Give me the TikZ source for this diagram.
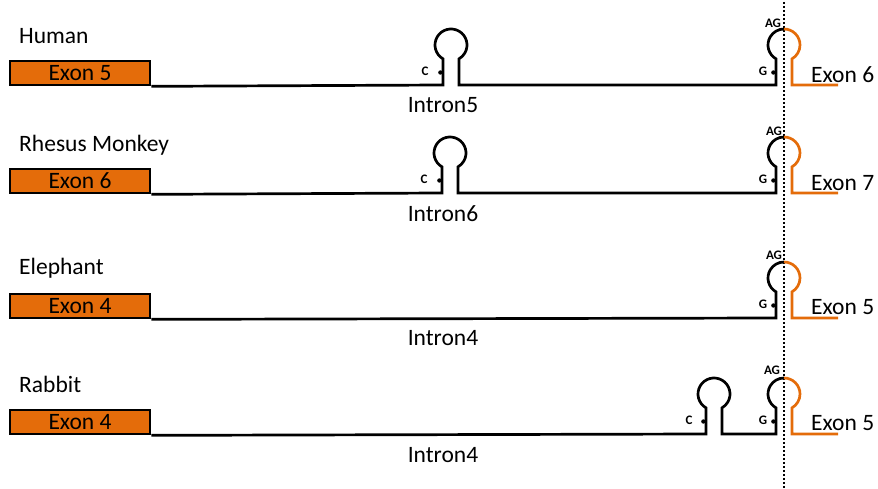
\documentclass[tikz,border=0pt]{standalone}
\usepackage{fontspec}
\setmainfont{Carlito}
\usetikzlibrary{calc}
\definecolor{exonorange}{HTML}{E46C0A}
\tikzset{
  strand/.style={line width=2.7pt, line join=miter, draw=black},
  orangestrand/.style={line width=2.7pt, line join=miter, draw=exonorange},
  bigtext/.style={font=\fontsize{23.5}{25}\selectfont},
  exonbox/.style={draw=black, fill=exonorange, line width=2.7pt, minimum width=140pt,
    minimum height=24pt, inner sep=0pt, bigtext},
  species/.style={anchor=west, inner sep=0pt, bigtext},
  intronlabel/.style={inner sep=0pt, bigtext},
  exonlabel/.style={anchor=west, inner sep=0pt, bigtext},
  baselabel/.style={inner sep=0pt, font=\fontsize{13}{14}\bfseries\selectfont},
  marker/.style={fill=black, draw=none}
}
\begin{document}
\begin{tikzpicture}[x=1pt,y=1pt]
\useasboundingbox (0,0) rectangle (878,489);

% splice-site reference line
\coordinate (dtop) at (783.5,487);
\coordinate (dbot) at (783.5,0);
\draw[line width=2pt, dash pattern=on 2pt off 2pt] (dtop) -- (dbot);

% ---------- Human ----------
\node[species] (sp1) at (19,453) {Human};
\node[exonbox] (ex1) at (80,416) {Exon 5};
\coordinate (hp1) at (451,404);
\draw[strand] (ex1.south east) -- ($(hp1)+(-8,0)$) -- ++(0,26.14)
  arc[start angle=240, end angle=-60, radius=16] -- ($(hp1)+(8,0)$)
  -- (776,404) -- ++(0,26.14) arc[start angle=240, end angle=90, radius=16] coordinate (top1);
\draw[orangestrand] (top1) arc[start angle=90, end angle=-60, radius=16] -- (792,404) -- (838,404);
\fill[marker] (440.4,416.5) circle (2.2);
\fill[marker] (773.4,416.5) circle (2.2);
\node[baselabel] (c1) at (425,418) {C};
\node[baselabel] (g1) at (763,418) {G};
\node[baselabel] (ag1) at (773,466) {AG};
\node[intronlabel] (in1) at (443,384) {Intron5};
\node[exonlabel] (ee1) at (811,414) {Exon 6};

% ---------- Rhesus Monkey ----------
\node[species] (sp2) at (19,344) {Rhesus Monkey};
\node[exonbox] (ex2) at (80,308) {Exon 6};
\coordinate (hp2) at (450,296);
\draw[strand] (ex2.south east) -- ($(hp2)+(-8,0)$) -- ++(0,26.14)
  arc[start angle=240, end angle=-60, radius=16] -- ($(hp2)+(8,0)$)
  -- (776,296) -- ++(0,26.14) arc[start angle=240, end angle=90, radius=16] coordinate (top2);
\draw[orangestrand] (top2) arc[start angle=90, end angle=-60, radius=16] -- (792,296) -- (838,296);
\fill[marker] (439.4,308.5) circle (2.2);
\fill[marker] (773.4,308.5) circle (2.2);
\node[baselabel] (c2) at (424,310) {C};
\node[baselabel] (g2) at (763,310) {G};
\node[baselabel] (ag2) at (774,358) {AG};
\node[intronlabel] (in2) at (443,275) {Intron6};
\node[exonlabel] (ee2) at (811,306) {Exon 7};

% ---------- Elephant ----------
\node[species] (sp3) at (19,221) {Elephant};
\node[exonbox] (ex3) at (80,183) {Exon 4};
\draw[strand] (ex3.south east) -- (776,171) -- ++(0,26.14)
  arc[start angle=240, end angle=90, radius=16] coordinate (top3);
\draw[orangestrand] (top3) arc[start angle=90, end angle=-60, radius=16] -- (792,171) -- (838,171);
\fill[marker] (773.4,183.5) circle (2.2);
\node[baselabel] (g3) at (763,185) {G};
\node[baselabel] (ag3) at (774,234) {AG};
\node[intronlabel] (in3) at (443,151) {Intron4};
\node[exonlabel] (ee3) at (811,182) {Exon 5};

% ---------- Rabbit ----------
\node[species] (sp4) at (19,105) {Rabbit};
\node[exonbox] (ex4) at (80,67) {Exon 4};
\coordinate (hp4) at (714,55);
\draw[strand] (ex4.south east) -- ($(hp4)+(-8,0)$) -- ++(0,26.14)
  arc[start angle=240, end angle=-60, radius=16] -- ($(hp4)+(8,0)$)
  -- (776,55) -- ++(0,26.14) arc[start angle=240, end angle=90, radius=16] coordinate (top4);
\draw[orangestrand] (top4) arc[start angle=90, end angle=-60, radius=16] -- (792,55) -- (838,55);
\fill[marker] (703.4,67.5) circle (2.2);
\fill[marker] (773.4,67.5) circle (2.2);
\node[baselabel] (c4) at (689,69) {C};
\node[baselabel] (g4) at (763,69) {G};
\node[baselabel] (ag4) at (772,119) {AG};
\node[intronlabel] (in4) at (443,34) {Intron4};
\node[exonlabel] (ee4) at (811,66) {Exon 5};
\end{tikzpicture}
\end{document}
